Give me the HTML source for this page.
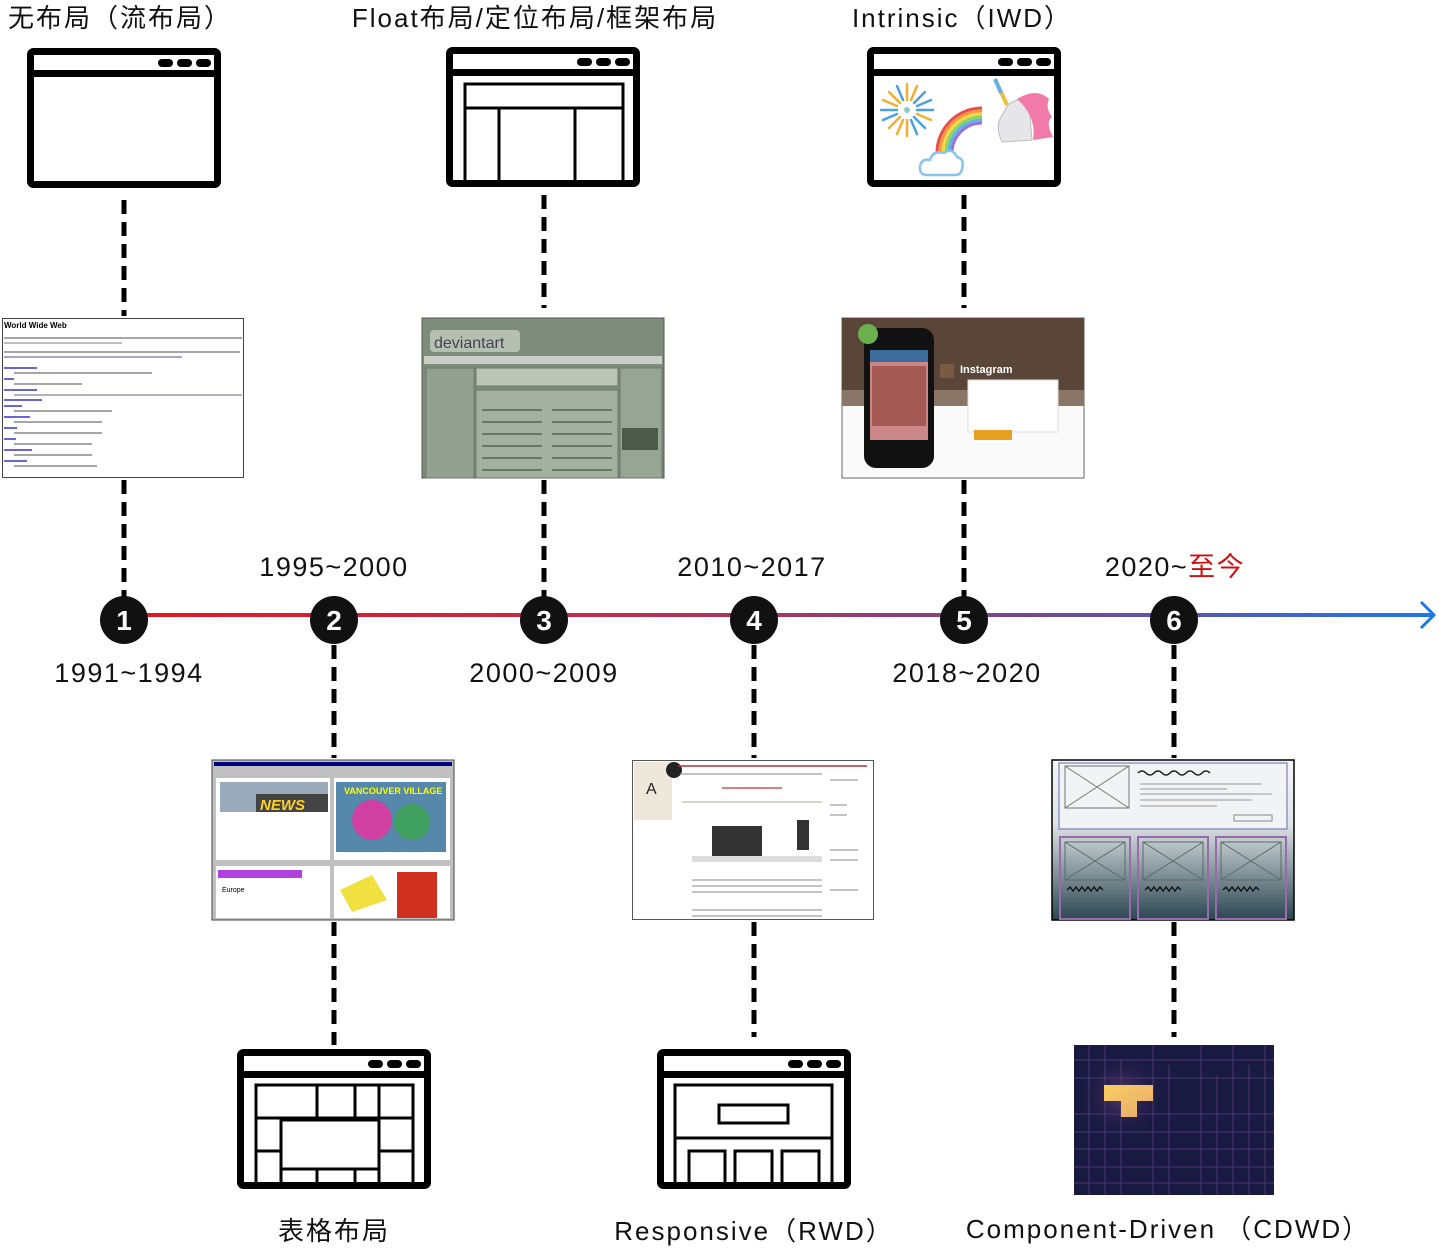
<!DOCTYPE html>
<html><head><meta charset="utf-8"><style>
html,body{margin:0;padding:0;background:#fff;}
svg{display:block;}
text{font-family:"Liberation Sans","Noto Sans CJK SC",sans-serif;}
</style></head><body>
<svg width="1439" height="1251" viewBox="0 0 1439 1251" xmlns="http://www.w3.org/2000/svg">
<defs>
<linearGradient id="tl" x1="124" y1="0" x2="1436" y2="0" gradientUnits="userSpaceOnUse">
<stop offset="0" stop-color="#e8151f"/><stop offset="0.35" stop-color="#c42a4a"/><stop offset="0.6" stop-color="#8a3f7a"/><stop offset="0.8" stop-color="#5a55b0"/><stop offset="1" stop-color="#1e78e6"/>
</linearGradient>
<linearGradient id="wf" x1="0" y1="0" x2="0" y2="1"><stop offset="0" stop-color="#f4f5f7"/><stop offset="0.4" stop-color="#dfe4e6"/><stop offset="1" stop-color="#2b4650"/></linearGradient>
<radialGradient id="glow" cx="0.5" cy="0.5" r="0.5"><stop offset="0" stop-color="#6a3a70" stop-opacity="0.8"/><stop offset="1" stop-color="#1a1a44" stop-opacity="0"/></radialGradient>
<linearGradient id="tt" x1="0" y1="0" x2="1" y2="1"><stop offset="0" stop-color="#f8d060"/><stop offset="1" stop-color="#e8a870"/></linearGradient>
<g id="frame">
<rect x="3.5" y="3.5" width="187" height="133" rx="3" fill="#fff" stroke="#000" stroke-width="7"/>
<rect x="3" y="22" width="188" height="7" fill="#000"/>
<rect x="131" y="11" width="15" height="8" rx="4" fill="#000"/>
<rect x="150" y="11" width="15" height="8" rx="4" fill="#000"/>
<rect x="169" y="11" width="15" height="8" rx="4" fill="#000"/>
</g>
</defs>

<line x1="124" y1="615" x2="1432" y2="615" stroke="url(#tl)" stroke-width="4"/>
<polyline points="1421,602 1434,615 1421,628" fill="none" stroke="#1e78e6" stroke-width="3"/>

<g stroke="#000" stroke-width="5" stroke-dasharray="14,8" fill="none">
<line x1="124" y1="200" x2="124" y2="316"/>
<line x1="124" y1="480" x2="124" y2="598"/>
<line x1="544" y1="195" x2="544" y2="308"/>
<line x1="544" y1="480" x2="544" y2="598"/>
<line x1="964" y1="195" x2="964" y2="308"/>
<line x1="964" y1="480" x2="964" y2="598"/>
<line x1="334" y1="645" x2="334" y2="758"/>
<line x1="334" y1="922" x2="334" y2="1045"/>
<line x1="754" y1="645" x2="754" y2="758"/>
<line x1="754" y1="922" x2="754" y2="1037"/>
<line x1="1174" y1="645" x2="1174" y2="758"/>
<line x1="1174" y1="922" x2="1174" y2="1037"/>
</g>

<g font-size="28" font-weight="bold" fill="#fff" text-anchor="middle">
<circle cx="124" cy="620" r="24" fill="#111"/><text x="124" y="630">1</text>
<circle cx="334" cy="620" r="24" fill="#111"/><text x="334" y="630">2</text>
<circle cx="544" cy="620" r="24" fill="#111"/><text x="544" y="630">3</text>
<circle cx="754" cy="620" r="24" fill="#111"/><text x="754" y="630">4</text>
<circle cx="964" cy="620" r="24" fill="#111"/><text x="964" y="630">5</text>
<circle cx="1174" cy="620" r="24" fill="#111"/><text x="1174" y="630">6</text>
</g>

<g font-size="27" fill="#111" text-anchor="middle" letter-spacing="1.5">
<text x="334" y="576">1995~2000</text>
<text x="752" y="576">2010~2017</text>
<text x="1175" y="576">2020~<tspan fill="#d01010">至今</tspan></text>
<text x="129" y="682">1991~1994</text>
<text x="544" y="682">2000~2009</text>
<text x="967" y="682">2018~2020</text>
</g>

<g font-size="26" fill="#111" text-anchor="middle" letter-spacing="2">
<text x="120" y="27">无布局（流布局）</text>
<text x="535" y="27">Float布局/定位布局/框架布局</text>
<text x="962" y="27">Intrinsic（IWD）</text>
<text x="334" y="1240">表格布局</text>
<text x="754" y="1240">Responsive（RWD）</text>
<text x="1168" y="1238">Component-Driven （CDWD）</text>
</g>

<g transform="translate(27,48)"><use href="#frame"/></g>
<g transform="translate(446,47)"><use href="#frame"/>
<g fill="none" stroke="#000" stroke-width="3">
<polyline points="19,136 19,37 177,37 177,136"/>
<line x1="19" y1="61" x2="177" y2="61"/>
<line x1="53" y1="61" x2="53" y2="136"/>
<line x1="129" y1="61" x2="129" y2="136"/>
</g></g>
<g transform="translate(867,47)"><use href="#frame"/>
<g stroke-width="2.5" stroke-linecap="round">
<g transform="translate(40,63)">
<line x1="-26" y1="0" x2="-10" y2="0" stroke="#4aa0e0"/><line x1="10" y1="0" x2="26" y2="0" stroke="#4aa0e0"/>
<line x1="0" y1="-26" x2="0" y2="-10" stroke="#f0b030"/><line x1="0" y1="10" x2="0" y2="26" stroke="#f0b030"/>
<line x1="-18" y1="-18" x2="-7" y2="-7" stroke="#f0b030"/><line x1="7" y1="7" x2="18" y2="18" stroke="#4aa0e0"/>
<line x1="18" y1="-18" x2="7" y2="-7" stroke="#4aa0e0"/><line x1="-7" y1="7" x2="-18" y2="18" stroke="#f0b030"/>
<line x1="-24" y1="-10" x2="-10" y2="-4" stroke="#f0b030"/><line x1="24" y1="10" x2="10" y2="4" stroke="#f0b030"/>
<line x1="-24" y1="10" x2="-10" y2="4" stroke="#4aa0e0"/><line x1="24" y1="-10" x2="10" y2="-4" stroke="#4aa0e0"/>
<line x1="-10" y1="-24" x2="-4" y2="-10" stroke="#4aa0e0"/><line x1="10" y1="24" x2="4" y2="10" stroke="#4aa0e0"/>
<line x1="10" y1="-24" x2="4" y2="-10" stroke="#f0b030"/><line x1="-10" y1="24" x2="-4" y2="10" stroke="#f0b030"/>
<circle cx="0" cy="0" r="3" fill="#8cc"/>
</g></g>
<g fill="none" stroke-width="3">
<path d="M70,106 A45,45 0 0 1 115,61" stroke="#e84c4c"/>
<path d="M73,106 A42,42 0 0 1 115,64" stroke="#f59a3a"/>
<path d="M76,106 A39,39 0 0 1 115,67" stroke="#f5d84a"/>
<path d="M79,106 A36,36 0 0 1 115,70" stroke="#8fd35a"/>
<path d="M82,106 A33,33 0 0 1 115,73" stroke="#5ab4e8"/>
<path d="M85,106 A30,30 0 0 1 115,76" stroke="#9b6fd8"/>
</g>
<path d="M60,128 Q52,128 53,119 Q55,111 63,113 Q66,103 77,106 Q85,100 90,110 Q98,112 95,122 Q94,128 88,128 Z" fill="#fff" stroke="#88c4ec" stroke-width="2.5"/>
<path d="M135,95 Q128,80 134,70 L141,58 Q150,50 162,54 L165,93 Z" fill="#e6e6e8" stroke="#bbb" stroke-width="1"/>
<path d="M150,52 Q170,40 182,52 Q178,60 185,70 Q178,75 186,90 L166,93 Q170,70 150,52 Z" fill="#f07aa8"/>
<line x1="140" y1="58" x2="128" y2="32" stroke="#e8c040" stroke-width="4"/>
<line x1="134" y1="46" x2="128" y2="32" stroke="#6ab0e8" stroke-width="4"/>
</g>

<g transform="translate(237,1049)"><use href="#frame"/>
<g fill="none" stroke="#000" stroke-width="3">
<polyline points="19,136 19,36 176,36 176,136"/>
<line x1="19" y1="69" x2="176" y2="69"/>
<line x1="80" y1="36" x2="80" y2="69"/><line x1="118" y1="36" x2="118" y2="69"/><line x1="142" y1="36" x2="142" y2="69"/>
<rect x="44" y="71" width="98" height="49"/>
<line x1="19" y1="102" x2="44" y2="102"/><line x1="142" y1="102" x2="176" y2="102"/>
<line x1="44" y1="69" x2="44" y2="136"/><line x1="142" y1="69" x2="142" y2="136"/>
<line x1="80" y1="120" x2="80" y2="136"/><line x1="118" y1="120" x2="118" y2="136"/>
</g></g>
<g transform="translate(657,1049)"><use href="#frame"/>
<g fill="none" stroke="#000" stroke-width="3">
<polyline points="18,136 18,36 175,36 175,136"/>
<line x1="18" y1="89" x2="175" y2="89"/>
<rect x="62" y="56" width="69" height="18"/>
<polyline points="32,136 32,102 68,102 68,136"/>
<polyline points="78,136 78,102 115,102 115,136"/>
<polyline points="125,136 125,102 162,102 162,136"/>
</g></g>

<g transform="translate(2,318)">
<rect x="0.5" y="0.5" width="241" height="159" fill="#fff" stroke="#444"/>
<text x="2" y="10" font-family="Liberation Serif" font-size="8" font-weight="bold" fill="#000">World Wide Web</text>
<g stroke-width="1.5">
<line x1="2" y1="20" x2="240" y2="20" stroke="#888"/><line x1="2" y1="25" x2="120" y2="25" stroke="#aaa"/>
<line x1="2" y1="34" x2="238" y2="34" stroke="#888"/><line x1="2" y1="39" x2="180" y2="39" stroke="#88a"/>
<line x1="2" y1="50" x2="35" y2="50" stroke="#33c"/><line x1="12" y1="55" x2="150" y2="55" stroke="#888"/>
<line x1="2" y1="61" x2="12" y2="61" stroke="#33c"/><line x1="12" y1="66" x2="80" y2="66" stroke="#888"/>
<line x1="2" y1="72" x2="35" y2="72" stroke="#33c"/><line x1="12" y1="77" x2="240" y2="77" stroke="#99a"/>
<line x1="2" y1="82" x2="40" y2="82" stroke="#33c"/><line x1="2" y1="88" x2="20" y2="88" stroke="#33c"/>
<line x1="12" y1="93" x2="110" y2="93" stroke="#888"/><line x1="2" y1="99" x2="28" y2="99" stroke="#33c"/>
<line x1="12" y1="104" x2="100" y2="104" stroke="#888"/><line x1="2" y1="110" x2="15" y2="110" stroke="#33c"/>
<line x1="12" y1="115" x2="100" y2="115" stroke="#888"/><line x1="2" y1="121" x2="14" y2="121" stroke="#33c"/>
<line x1="12" y1="126" x2="90" y2="126" stroke="#888"/><line x1="2" y1="132" x2="30" y2="132" stroke="#33c"/>
<line x1="12" y1="137" x2="90" y2="137" stroke="#888"/><line x1="2" y1="143" x2="25" y2="143" stroke="#33c"/>
<line x1="12" y1="148" x2="95" y2="148" stroke="#888"/>
</g></g>

<g transform="translate(422,318)">
<rect x="0" y="0" width="242" height="160" fill="#7e8c7c"/>
<rect x="0" y="0" width="242" height="160" fill="none" stroke="#555"/>
<rect x="8" y="12" width="90" height="22" rx="4" fill="#b5c0b0"/>
<text x="12" y="30" font-size="16" fill="#445">deviantart</text>
<rect x="2" y="38" width="238" height="8" fill="#c8cec4"/>
<rect x="4" y="50" width="48" height="110" fill="#94a092" stroke="#6a786a"/>
<rect x="54" y="50" width="142" height="18" fill="#bcc4b8" stroke="#6a786a"/>
<rect x="54" y="72" width="142" height="88" fill="#a4b0a0" stroke="#6a786a"/>
<rect x="198" y="50" width="42" height="110" fill="#98a494" stroke="#6a786a"/>
<rect x="200" y="110" width="36" height="22" fill="#4b5a4b"/>
<g stroke="#556655" stroke-width="1.5">
<line x1="60" y1="92" x2="120" y2="92"/><line x1="130" y1="92" x2="190" y2="92"/>
<line x1="60" y1="104" x2="120" y2="104"/><line x1="130" y1="104" x2="190" y2="104"/>
<line x1="60" y1="116" x2="120" y2="116"/><line x1="130" y1="116" x2="190" y2="116"/>
<line x1="60" y1="128" x2="120" y2="128"/><line x1="130" y1="128" x2="190" y2="128"/>
<line x1="60" y1="140" x2="120" y2="140"/><line x1="130" y1="140" x2="190" y2="140"/>
<line x1="60" y1="152" x2="120" y2="152"/><line x1="130" y1="152" x2="190" y2="152"/>
</g></g>

<g transform="translate(842,318)">
<rect x="0" y="0" width="242" height="160" fill="#fafafa" stroke="#666"/>
<rect x="0" y="0" width="242" height="72" fill="#5a4638"/>
<rect x="0" y="72" width="242" height="16" fill="#8a7666"/>
<rect x="22" y="10" width="70" height="140" rx="12" fill="#111"/>
<rect x="28" y="32" width="58" height="90" fill="#c88"/>
<rect x="28" y="32" width="58" height="12" fill="#3b6c9a"/>
<rect x="30" y="48" width="54" height="60" fill="#a55a55"/>
<circle cx="26" cy="16" r="10" fill="#6ab04c"/>
<rect x="98" y="46" width="14" height="14" fill="#7a5a40"/>
<text x="118" y="55" font-size="11" font-weight="bold" fill="#fff">Instagram</text>
<rect x="126" y="62" width="90" height="52" fill="#fff" stroke="#ddd"/>
<rect x="132" y="112" width="38" height="10" fill="#e8a020"/>
</g>

<g transform="translate(212,760)">
<rect x="0" y="0" width="242" height="160" fill="#c0c0c0" stroke="#444"/>
<rect x="2" y="2" width="238" height="4" fill="#000080"/>
<rect x="4" y="18" width="114" height="82" fill="#fff"/>
<rect x="8" y="22" width="108" height="30" fill="#9ab"/>
<rect x="44" y="34" width="72" height="18" fill="#444"/>
<text x="48" y="50" font-size="15" font-weight="bold" font-style="italic" fill="#ffd020">NEWS</text>
<rect x="122" y="18" width="116" height="82" fill="#fff"/>
<rect x="124" y="22" width="110" height="70" fill="#58a"/>
<circle cx="160" cy="60" r="20" fill="#d040a0"/><circle cx="200" cy="62" r="18" fill="#40a060"/>
<text x="132" y="34" font-size="9" font-weight="bold" fill="#ff0">VANCOUVER VILLAGE</text>
<rect x="4" y="106" width="114" height="52" fill="#fff"/>
<rect x="6" y="110" width="84" height="8" fill="#b040e0"/>
<text x="10" y="132" font-size="7" fill="#000" font-family="Liberation Serif">Europe</text>
<rect x="122" y="106" width="116" height="52" fill="#fff"/>
<rect x="185" y="112" width="40" height="46" fill="#d03020"/>
<polygon points="128,130 160,115 175,140 140,152" fill="#f0e040"/>
</g>

<g transform="translate(632,760)">
<rect x="0.5" y="0.5" width="241" height="159" fill="#fff" stroke="#555"/>
<rect x="2" y="2" width="38" height="58" fill="#eee8dc"/>
<circle cx="42" cy="10" r="8" fill="#222"/>
<text x="14" y="34" font-family="Liberation Serif" font-size="16" fill="#222">A</text>
<line x1="46" y1="6" x2="235" y2="6" stroke="#a33" stroke-width="1.5"/>
<line x1="48" y1="14" x2="190" y2="14" stroke="#888"/>
<line x1="90" y1="28" x2="150" y2="28" stroke="#c55" stroke-width="1.5"/>
<line x1="50" y1="42" x2="190" y2="42" stroke="#aa9"/>
<g fill="#333"><rect x="80" y="66" width="50" height="30"/><rect x="165" y="60" width="12" height="30"/></g>
<rect x="60" y="96" width="130" height="6" fill="#ddd"/>
<g stroke="#888"><line x1="60" y1="120" x2="190" y2="120"/><line x1="60" y1="126" x2="190" y2="126"/><line x1="60" y1="132" x2="190" y2="132"/><line x1="60" y1="150" x2="190" y2="150"/><line x1="60" y1="156" x2="190" y2="156"/>
<line x1="198" y1="20" x2="226" y2="20"/><line x1="198" y1="45" x2="215" y2="45"/><line x1="198" y1="55" x2="215" y2="55"/><line x1="198" y1="90" x2="226" y2="90"/><line x1="198" y1="100" x2="226" y2="100"/><line x1="198" y1="130" x2="226" y2="130"/></g>
</g>

<g transform="translate(1052,760)">
<rect x="0" y="0" width="242" height="160" fill="url(#wf)" stroke="#000" stroke-width="1.5"/>
<rect x="7" y="3" width="228" height="66" fill="#f2f3f5" stroke="#6a6ab0"/>
<rect x="13" y="6" width="64" height="42" fill="none" stroke="#777"/>
<line x1="13" y1="6" x2="77" y2="48" stroke="#777"/><line x1="77" y1="6" x2="13" y2="48" stroke="#777"/>
<path d="M86,13 q4,-4 8,0 q4,4 8,0 q4,-4 8,0 q4,4 8,0 q4,-4 8,0 q4,4 8,0 q4,-4 8,0 q4,4 8,0 q4,-4 8,0" fill="none" stroke="#222" stroke-width="1.5"/>
<g stroke="#999"><line x1="88" y1="24" x2="210" y2="24"/><line x1="88" y1="29" x2="175" y2="29"/><line x1="88" y1="34" x2="220" y2="34"/><line x1="88" y1="40" x2="200" y2="40"/><line x1="88" y1="46" x2="165" y2="46"/></g>
<rect x="182" y="55" width="38" height="6" fill="none" stroke="#888"/>
<g fill="none" stroke="#9a6ab0" stroke-width="2">
<rect x="8" y="77" width="70" height="82"/><rect x="86" y="77" width="70" height="82"/><rect x="164" y="77" width="70" height="82"/>
</g>
<g fill="none" stroke="#5a6a6a">
<rect x="13" y="82" width="60" height="38"/><line x1="13" y1="82" x2="73" y2="120"/><line x1="73" y1="82" x2="13" y2="120"/>
<rect x="91" y="82" width="60" height="38"/><line x1="91" y1="82" x2="151" y2="120"/><line x1="151" y1="82" x2="91" y2="120"/>
<rect x="169" y="82" width="60" height="38"/><line x1="169" y1="82" x2="229" y2="120"/><line x1="229" y1="82" x2="169" y2="120"/>
</g>
<g fill="none" stroke="#111" stroke-width="1.3">
<path d="M15,130 l3,-3 3,4 3,-4 3,4 3,-4 3,4 3,-4 3,4 3,-4 3,4 3,-4 3,3"/>
<path d="M93,130 l3,-3 3,4 3,-4 3,4 3,-4 3,4 3,-4 3,4 3,-4 3,4 3,-4 3,3"/>
<path d="M171,130 l3,-3 3,4 3,-4 3,4 3,-4 3,4 3,-4 3,4 3,-4 3,4 3,-4 3,3"/>
</g></g>

<g transform="translate(1074,1045)">
<rect x="0" y="0" width="200" height="150" fill="#181a42"/>
<circle cx="48" cy="50" r="45" fill="url(#glow)"/>
<g stroke="#4a3a70" stroke-width="1" fill="none">
<line x1="0" y1="15" x2="200" y2="15"/><line x1="0" y1="33" x2="200" y2="33"/><line x1="0" y1="69" x2="200" y2="69"/><line x1="0" y1="87" x2="200" y2="87"/><line x1="0" y1="104" x2="200" y2="104"/><line x1="0" y1="122" x2="200" y2="122"/><line x1="0" y1="138" x2="200" y2="138"/>
<line x1="15" y1="0" x2="15" y2="150"/><line x1="31" y1="0" x2="31" y2="150"/><line x1="47" y1="15" x2="47" y2="150"/><line x1="79" y1="0" x2="79" y2="150"/><line x1="95" y1="20" x2="95" y2="150"/><line x1="127" y1="0" x2="127" y2="150"/><line x1="143" y1="30" x2="143" y2="150"/><line x1="159" y1="0" x2="159" y2="150"/><line x1="175" y1="20" x2="175" y2="150"/><line x1="191" y1="0" x2="191" y2="150"/>
</g>
<path d="M30,40 L79,40 L79,56 L63,56 L63,72 L47,72 L47,56 L30,56 Z" fill="url(#tt)"/>
</g>
</svg>
</body></html>
